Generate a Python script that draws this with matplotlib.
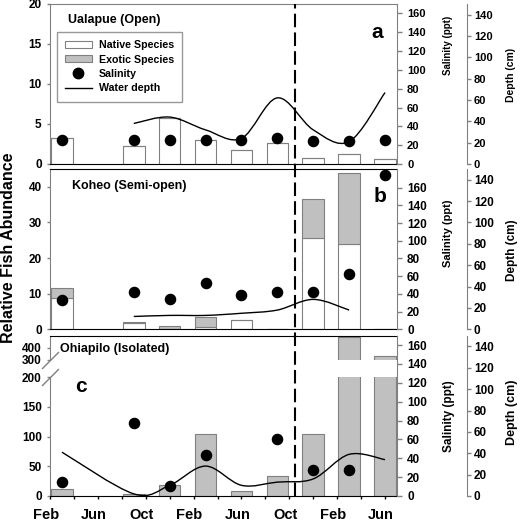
import numpy as np
import matplotlib
matplotlib.use("Agg")
import matplotlib.pyplot as plt
from matplotlib.path import Path
from matplotlib.patches import PathPatch, Patch
from matplotlib.lines import Line2D
from matplotlib.transforms import blended_transform_factory, ScaledTranslation

plt.rcParams['font.family'] = ['Liberation Sans', 'DejaVu Sans']
plt.rcParams['font.weight'] = 'bold'

# months counted from the first February
sample_month = [1, 7, 10, 13, 16, 19, 22, 25, 28]
tick_months = [0, 4, 8, 12, 16, 20, 24, 28]
tick_labels = ['Feb', 'Jun', 'Oct', 'Feb', 'Jun', 'Oct', 'Feb', 'Jun']
breach_month = 20.5

# Ualapue (Open)
a_native = [3.3, 2.2, 5.8, 3.0, 1.8, 2.6, 0.7, 1.3, 0.6]
a_exotic = [0, 0, 0, 0, 0, 0, 0, 0, 0]
a_salinity = [26, 26, 26, 26, 26, 28, 24, 24, 25]
a_depth_month = [7, 10, 13, 16, 19, 22, 25, 28]
a_depth = [38, 44, 32, 24, 62, 32, 21, 67]

# Koheo (Semi-open)
b_native = [8.9, 1.7, 0, 0.65, 2.5, 0.2, 25.5, 23.9, 0]
b_exotic = [2.6, 0.4, 1.0, 2.8, 0, 0, 11.0, 20.0, 0]
b_salinity = [33, 42, 34.5, 52, 39, 42, 42, 62, 174]
b_depth_month = [7, 10, 13, 16, 19, 22, 25]
b_depth = [12, 13, 13, 15, 18, 28, 18]

# Ohiapilo (Isolated)
c_native = [0, 0, 0, 0, 0, 0, 0, 0, 0]
c_exotic = [12, 3, 19, 104, 9, 34, 105, 490, 335]
c_salinity = [14.5, 77, 11, 44, np.nan, 60, 28, 28, np.nan]
c_depth_month = [1, 7, 10, 13, 16, 19, 22, 25, 28]
c_depth = [41, 2, 10, 28, 10, 13, 16, 39, 34]

GRAY = '#808080'
EXOTIC = '#c0c0c0'
W, H = 520, 522


def smooth_path(xs, ys):
    # Excel-style smoothed line: Catmull-Rom turned into cubic Bezier segments
    pts = np.column_stack([xs, ys]).astype(float)
    ext = np.vstack([pts[0], pts, pts[-1]])
    verts = [pts[0]]
    codes = [Path.MOVETO]
    for i in range(len(pts) - 1):
        p0, p1, p2, p3 = ext[i], ext[i + 1], ext[i + 2], ext[i + 3]
        verts += [p1 + (p2 - p0) / 6, p2 - (p3 - p1) / 6, p2]
        codes += [Path.CURVE4] * 3
    return Path(verts, codes)


def rect(top, bottom):
    # pixel box -> figure fraction
    return [50 / W, 1 - bottom / H, 347 / W, (bottom - top) / H]


def style_left(ax, top_color, size=8.5):
    ax.set_xlim(0, 29)
    ax.tick_params(axis='y', direction='out', length=2.5, width=1, color=GRAY,
                   pad=3.5, labelsize=size)
    ax.spines['left'].set_color(GRAY)
    ax.spines['right'].set_visible(False)
    ax.spines['top'].set_color(top_color)
    ax.spines['bottom'].set_color('black')
    ax.set_xticks([])


def draw_bars(ax, native, exotic):
    ax.bar(sample_month, native, width=1.8, color='white', edgecolor=GRAY, linewidth=0.8, zorder=2)
    ax.bar(sample_month, exotic, width=1.8, bottom=native, color=EXOTIC, edgecolor=GRAY,
           linewidth=0.8, zorder=2)


def add_right_axes(sal, dep, sal_max, size, sal_ly, dep_ly, lsize):
    for a in (sal, dep):
        a.set_xlim(0, 29)
        a.patch.set_visible(False)
        for s in ('left', 'top', 'bottom'):
            a.spines[s].set_visible(False)
        a.spines['right'].set_color(GRAY)
        a.set_xticks([])
    sal.set_ylim(0, sal_max)
    sal.set_yticks(range(0, 161, 20))
    sal.tick_params(axis='y', length=3.6, width=1, color=GRAY, pad=3.6, labelsize=size)
    sal.set_ylabel('Salinity (ppt)', fontsize=lsize, fontweight='bold')
    sal.yaxis.set_label_coords(1.133, sal_ly)
    dep.spines['right'].set_position(('axes', 1 + 70 / 347))
    dep.set_ylim(0, 150)
    dep.set_yticks(range(0, 141, 20))
    dep.tick_params(axis='y', length=3, width=1, color=GRAY, pad=2, labelsize=size)
    dep.set_ylabel('Depth (cm)', fontsize=lsize + 0.5, fontweight='bold')
    dep.yaxis.set_label_coords(1.315, dep_ly)


def draw_env(sal, dep, salinity, depth_month, depth):
    sal.plot(sample_month, salinity, 'o', color='black', markersize=7.3, zorder=3)
    dep.add_patch(PathPatch(smooth_path(depth_month, depth), fill=False,
                            edgecolor='black', linewidth=1.0, zorder=3))


fig = plt.figure(figsize=(W / 100, H / 100), dpi=100)

# ---- panel a ----
ax_a = fig.add_axes(rect(4, 164))
style_left(ax_a, GRAY)
ax_a.set_ylim(0, 20)
ax_a.set_yticks([0, 5, 10, 15, 20])
draw_bars(ax_a, a_native, a_exotic)
sal_a = ax_a.twinx()
dep_a = ax_a.twinx()
add_right_axes(sal_a, dep_a, 170, 8, 0.744, 0.556, 7)
draw_env(sal_a, dep_a, a_salinity, a_depth_month, a_depth)
ax_a.text(0.052, 0.90, 'Ualapue (Open)', transform=ax_a.transAxes, fontsize=9,
          fontweight='bold', va='center', ha='left')
dep_a.text(0.942, 0.7875, 'a', transform=ax_a.transAxes, fontsize=15,
           fontweight='bold', ha='center', va='baseline')
handles = [Patch(facecolor='white', edgecolor=GRAY, linewidth=0.8),
           Patch(facecolor=EXOTIC, edgecolor=GRAY, linewidth=0.8),
           Line2D([], [], marker='o', color='black', linestyle='none', markersize=7.5),
           Line2D([], [], color='black', linewidth=1.0)]
leg = dep_a.legend(handles, ['Native Species', 'Exotic Species', 'Salinity', 'Water depth'],
                   loc='upper left', bbox_to_anchor=(0.02, 0.825), fontsize=7.7,
                   frameon=True, fancybox=False, edgecolor=GRAY, handlelength=2.5,
                   handleheight=0.6, handletextpad=0.7, labelspacing=0.42,
                   borderpad=0.75, borderaxespad=0)
leg.get_frame().set_linewidth(1.0)
for t in leg.get_texts():
    t.set_fontweight('bold')

# ---- panel b ----
ax_b = fig.add_axes(rect(169, 329.3))
style_left(ax_b, 'black')
ax_b.set_ylim(0, 45)
ax_b.set_yticks([0, 10, 20, 30, 40])
draw_bars(ax_b, b_native, b_exotic)
sal_b = ax_b.twinx()
dep_b = ax_b.twinx()
add_right_axes(sal_b, dep_b, 181, 8.5, 0.60, 0.495, 8)
draw_env(sal_b, dep_b, b_salinity, b_depth_month, b_depth)
ax_b.text(0.063, 0.894, 'Koheo (Semi-open)', transform=ax_b.transAxes, fontsize=9,
          fontweight='bold', va='center', ha='left')
dep_b.text(0.951, 0.796, 'b', transform=ax_b.transAxes, fontsize=15,
           fontweight='bold', ha='center', va='baseline')

# ---- panel c (broken left axis) ----
ax_c = fig.add_axes(rect(377.3, 496))
ax_c_up = fig.add_axes(rect(335.7, 360))
for a in (ax_c, ax_c_up):
    style_left(a, 'black')
    draw_bars(a, c_native, c_exotic)
ax_c.spines['top'].set_visible(False)
ax_c_up.spines['bottom'].set_visible(False)
ax_c.set_ylim(0, 200)
ax_c.set_yticks([0, 50, 100, 150, 200])
ax_c_up.set_ylim(300, 500)
ax_c_up.set_yticks([300, 400])

ax_c.set_xticks(tick_months)
ax_c.set_xticks(range(2, 29, 4), minor=True)
ax_c.set_xticklabels(tick_labels)
ax_c.tick_params(axis='x', which='both', direction='out', length=2.2, width=1,
                 color='black', pad=6.5, labelsize=10.5)
shift = ScaledTranslation(-4 / 100, 0, fig.dpi_scale_trans)
for lab in ax_c.get_xticklabels():
    lab.set_transform(lab.get_transform() + shift)

brk = dict(marker=[(-1, -1), (1, 1)], markersize=12.2, linestyle='none',
           color=GRAY, mec=GRAY, mew=1, clip_on=False)
ax_c_up.plot([0], [0], transform=ax_c_up.transAxes, **brk)
ax_c.plot([0], [1], transform=ax_c.transAxes, **brk)

sal_c = fig.add_axes(rect(335.7, 496))
dep_c = fig.add_axes(rect(335.7, 496))
for a in (sal_c, dep_c):
    a.yaxis.tick_right()
    a.yaxis.set_label_position('right')
add_right_axes(sal_c, dep_c, 170, 8.5, 0.50, 0.524, 8.5)
draw_env(sal_c, dep_c, c_salinity, c_depth_month, c_depth)
dep_c.text(0.029, 0.917, 'Ohiapilo (Isolated)', transform=dep_c.transAxes, fontsize=9,
           fontweight='bold', va='center', ha='left')
dep_c.text(0.089, 0.65, 'c', transform=dep_c.transAxes, fontsize=15,
           fontweight='bold', ha='center', va='baseline')

# breach line across all panels
trans = blended_transform_factory(ax_c.transData, fig.transFigure)
fig.add_artist(Line2D([breach_month, breach_month], [1 - 496 / H, 1 - 4 / H], transform=trans,
                      color='black', linewidth=1.5, dashes=(6.5, 2.5)))

fig.text(8.5 / W, 1 - 248 / H, 'Relative Fish Abundance', rotation=90, ha='center',
         va='center', fontsize=11.5, fontweight='bold')

fig.savefig('out.png', dpi=100)
